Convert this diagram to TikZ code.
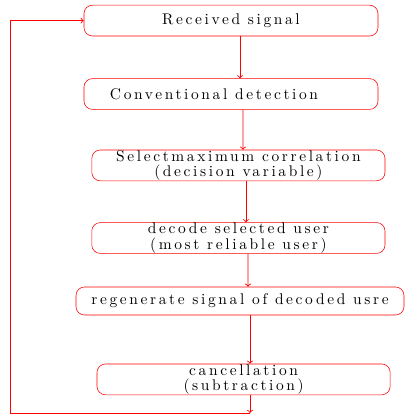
\documentclass[tikz,border=0pt]{standalone}
\usepackage{fontspec}
\usepackage{tikz}
\newfontfamily\boxfont{lmroman10-regular.otf}[LetterSpace=17]

\begin{document}
\begin{tikzpicture}[box/.style={draw=red, rectangle, rounded corners=6, minimum width=7.35cm, minimum height=0.77cm, inner sep=0pt, align=center, font=\boxfont\fontsize{11}{10.9}\selectfont}, n/.style={->, draw=red, line width=0.6pt}, l/.style={draw=red, line width=0.6pt}]
                \useasboundingbox (0,0) rectangle (10.125,10.475);
                % nodes
                \node[box] (rec) at (5.775,9.96) {Received signal};
                \node[box] (conv) at (5.775,8.125) {Conventional detection\hspace*{0.85cm}};
                \node[box, minimum width=7.33cm] (sel) at (5.96,6.34) {Selectmaximum correlation\\(decision variable)};
                \node[box, minimum width=7.33cm] (dec) at (5.96,4.525) {decode selected user\\(most reliable user)};
                \node[box, minimum width=8.2cm, minimum height=0.7cm] (regen) at (6.0,2.95) {regenerate signal of decoded usre};
                \node[box, minimum width=7.33cm] (canc) at (6.09,0.99) {cancellation\\(subtraction)};
                \coordinate (bot) at (6.25,0.15);
                \coordinate (corner) at (0.25,0.15);
                % edges
                \draw [n] ([xshift=0.225cm]rec.south) -- ([xshift=0.225cm]conv.south |- conv.north);
                \draw [n] ([xshift=0.3cm]conv.south) -- ([xshift=0.115cm]sel.north);
                \draw [n] ([xshift=0.19cm]sel.south) -- ([xshift=0.19cm]dec.north);
                \draw [n] ([xshift=0.24cm]dec.south) -- ([xshift=0.2cm]regen.north);
                \draw [n] ([xshift=0.25cm]regen.south) -- ([xshift=0.16cm]canc.north);
                \draw [n] ([xshift=0.16cm]canc.south) -- (bot);
                \draw [l] (bot) -- (corner);
                \draw [n] (corner) |- (rec.west);
            \end{tikzpicture}
\end{document}
